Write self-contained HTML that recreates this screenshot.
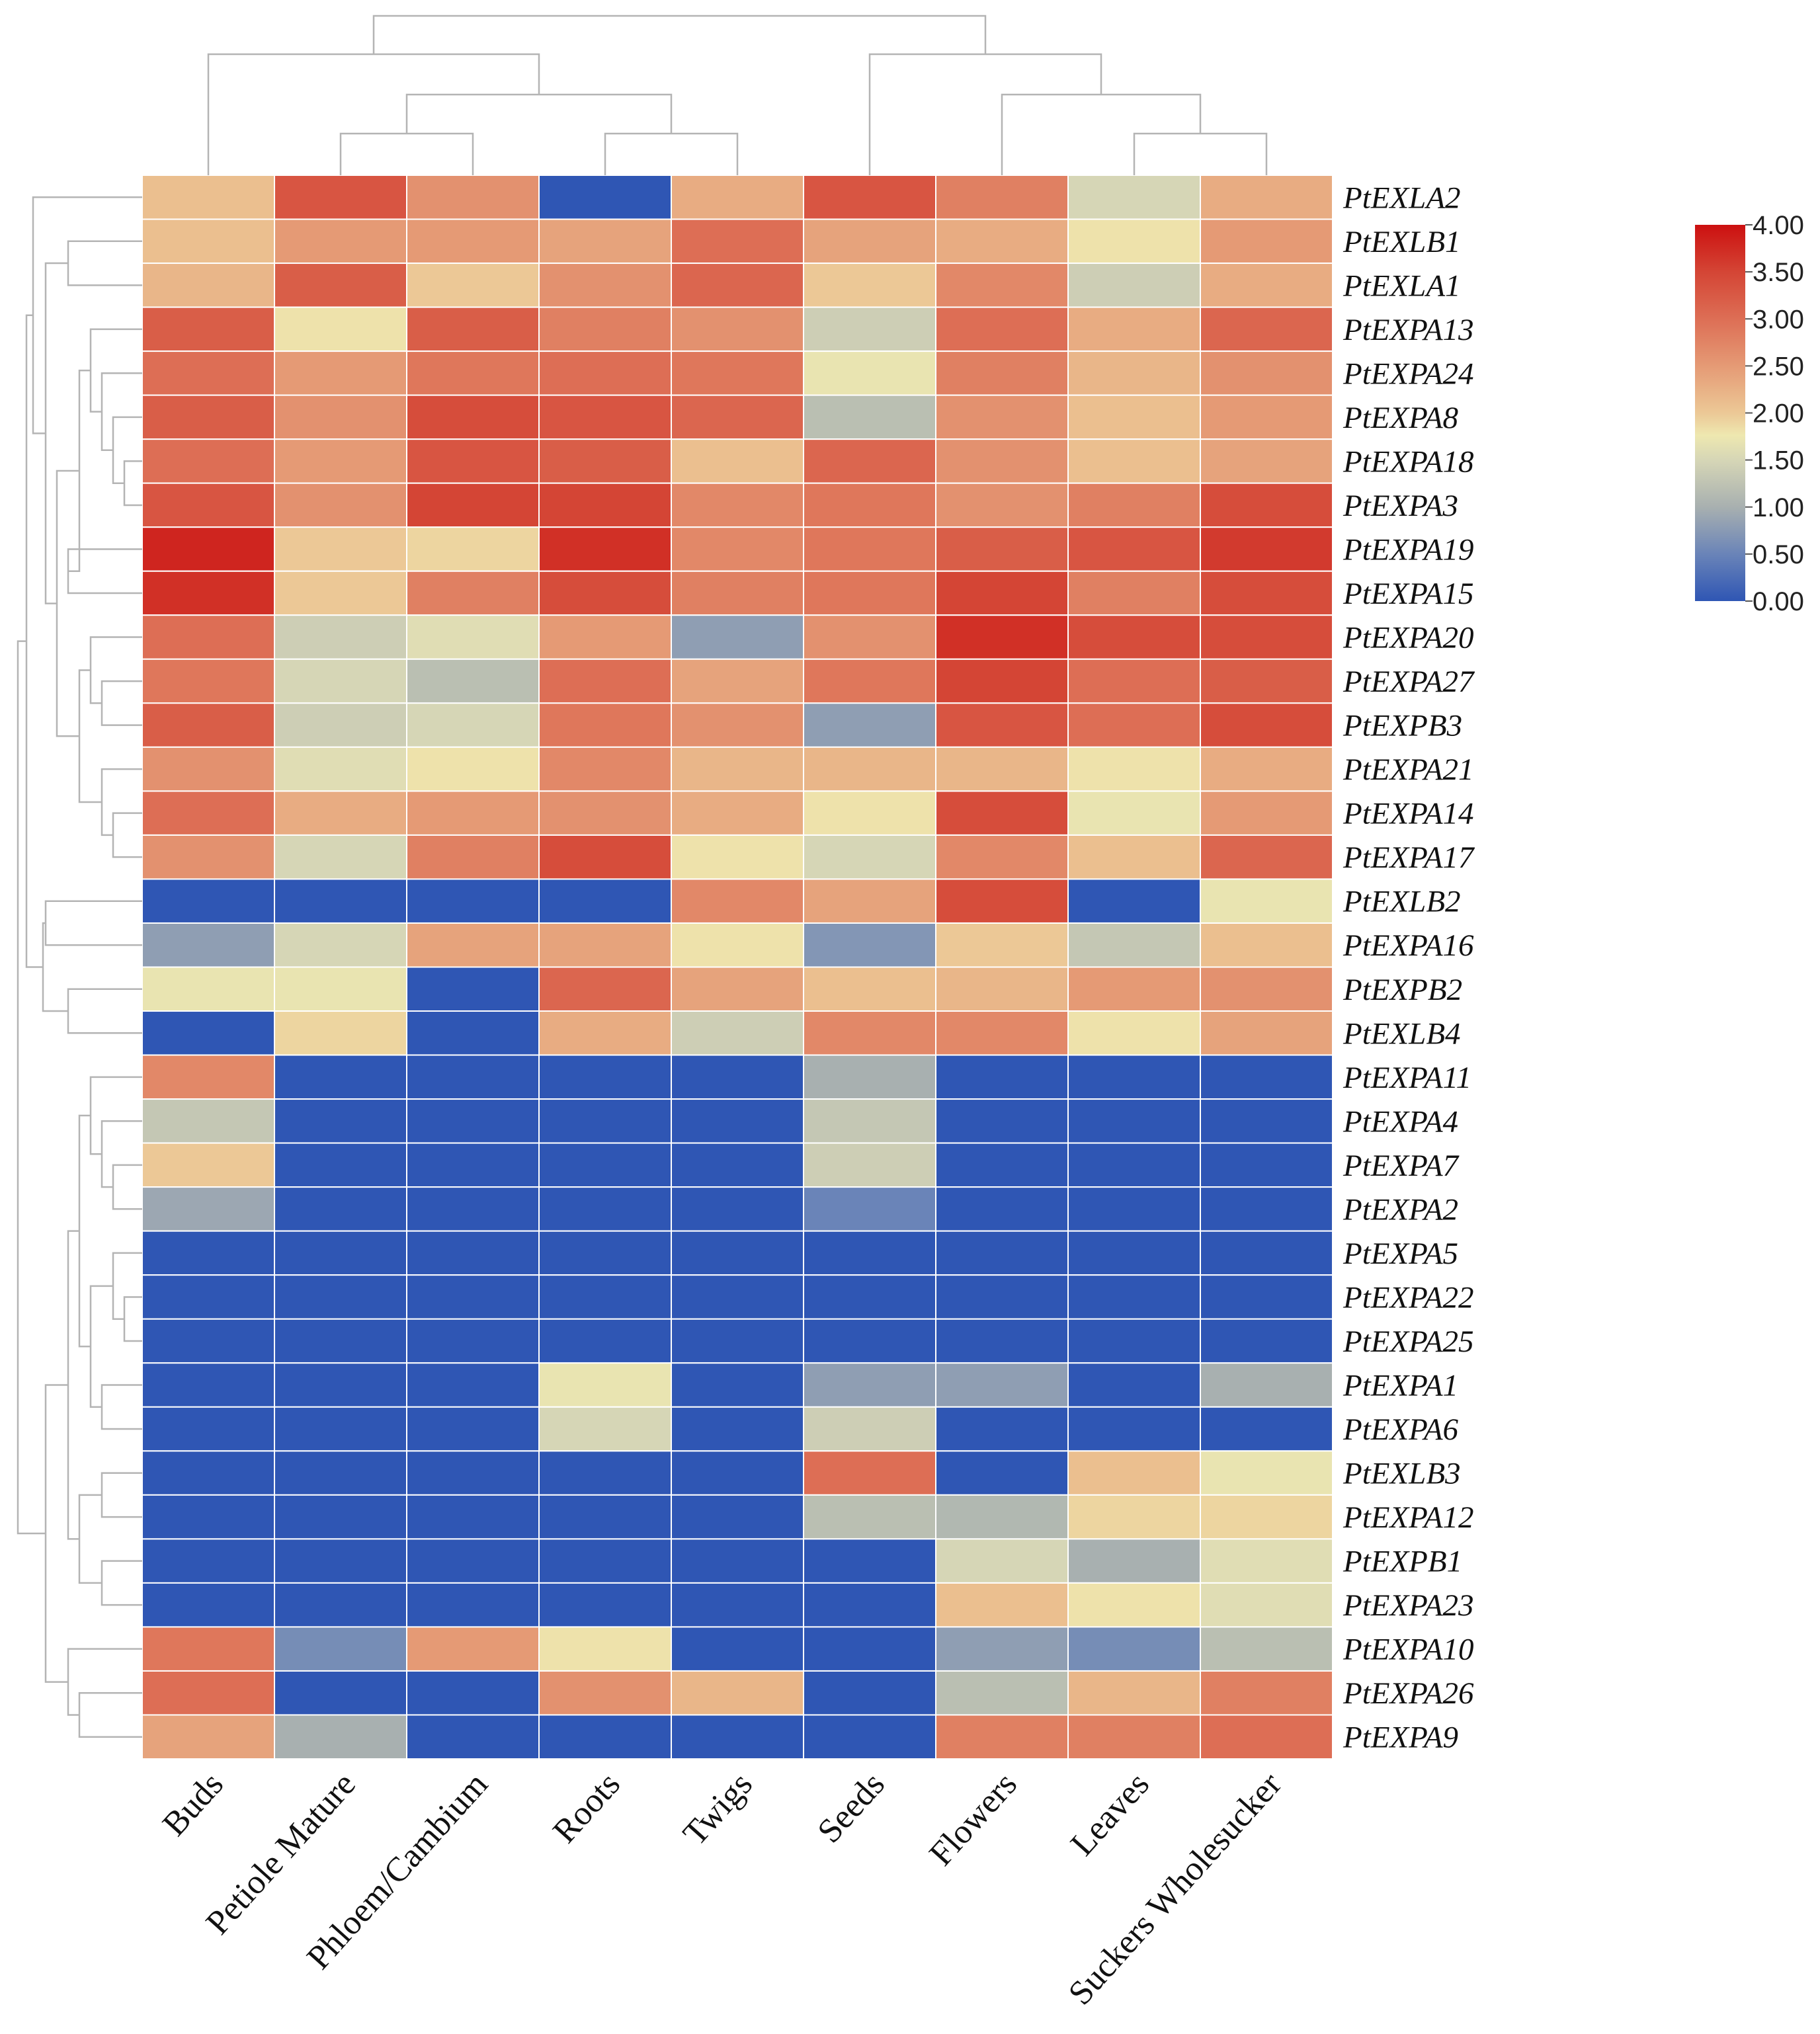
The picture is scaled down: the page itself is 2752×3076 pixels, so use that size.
<!DOCTYPE html>
<html><head><meta charset="utf-8">
<style>html,body{margin:0;padding:0;background:#fff}svg{display:block}</style>
</head><body>
<svg id="chart" width="2752" height="3076" viewBox="0 0 2752 3076" xmlns="http://www.w3.org/2000/svg">
<defs>
<linearGradient id="cbg" x1="0" y1="1" x2="0" y2="0">
<stop offset="0" stop-color="#2f56b4"/><stop offset="0.125" stop-color="#6a84b8"/><stop offset="0.25" stop-color="#a8b0b0"/><stop offset="0.375" stop-color="#d6d6b6"/><stop offset="0.44" stop-color="#eee8b0"/><stop offset="0.5" stop-color="#ecc896"/><stop offset="0.625" stop-color="#e59a75"/><stop offset="0.75" stop-color="#dd6e55"/><stop offset="0.875" stop-color="#d44535"/><stop offset="1" stop-color="#cc1010"/>
</linearGradient>
</defs>
<g id="cells"></g>
<g id="rowlabels"></g>
<g id="collabels"></g>
<g id="dendro" stroke="#b4b4b4" stroke-width="2.5" fill="none"></g>
<g>
<rect x="2563" y="340" width="76" height="569" fill="url(#cbg)"/>
<g id="cbticks"></g>
</g>
</svg>
<script>
const cols = ["Buds","Petiole Mature","Phloem/Cambium","Roots","Twigs","Seeds","Flowers","Leaves","Suckers Wholesucker"];
const rows = ["PtEXLA2","PtEXLB1","PtEXLA1","PtEXPA13","PtEXPA24","PtEXPA8","PtEXPA18","PtEXPA3","PtEXPA19","PtEXPA15","PtEXPA20","PtEXPA27","PtEXPB3","PtEXPA21","PtEXPA14","PtEXPA17","PtEXLB2","PtEXPA16","PtEXPB2","PtEXLB4","PtEXPA11","PtEXPA4","PtEXPA7","PtEXPA2","PtEXPA5","PtEXPA22","PtEXPA25","PtEXPA1","PtEXPA6","PtEXLB3","PtEXPA12","PtEXPB1","PtEXPA23","PtEXPA10","PtEXPA26","PtEXPA9"];
const values = [
[2.1,3.3,2.6,0,2.3,3.3,2.8,1.5,2.3],
[2.1,2.5,2.5,2.4,3.0,2.4,2.3,1.8,2.5],
[2.2,3.2,2.0,2.6,3.1,2.0,2.7,1.4,2.3],
[3.2,1.8,3.2,2.8,2.6,1.4,3.0,2.3,3.1],
[3.0,2.5,2.9,3.0,2.9,1.7,2.8,2.2,2.6],
[3.2,2.6,3.4,3.3,3.1,1.2,2.6,2.1,2.5],
[3.0,2.5,3.3,3.2,2.1,3.1,2.6,2.1,2.4],
[3.3,2.6,3.5,3.5,2.7,2.9,2.6,2.8,3.4],
[3.8,2.0,1.9,3.7,2.7,2.9,3.2,3.3,3.6],
[3.7,2.0,2.8,3.4,2.8,2.9,3.5,2.8,3.4],
[3.0,1.4,1.6,2.5,0.8,2.6,3.7,3.4,3.4],
[2.9,1.5,1.2,3.0,2.4,2.9,3.5,3.0,3.2],
[3.2,1.4,1.5,2.9,2.6,0.8,3.3,3.0,3.4],
[2.6,1.6,1.8,2.7,2.2,2.2,2.2,1.8,2.3],
[3.0,2.3,2.5,2.6,2.3,1.8,3.4,1.7,2.5],
[2.6,1.5,2.8,3.4,1.8,1.5,2.7,2.1,3.1],
[0,0,0,0,2.7,2.4,3.4,0,1.7],
[0.8,1.5,2.4,2.4,1.8,0.7,2.0,1.3,2.1],
[1.7,1.7,0,3.1,2.4,2.1,2.2,2.5,2.6],
[0,1.9,0,2.3,1.4,2.7,2.7,1.8,2.4],
[2.7,0,0,0,0,1.0,0,0,0],
[1.3,0,0,0,0,1.3,0,0,0],
[2.0,0,0,0,0,1.4,0,0,0],
[0.9,0,0,0,0,0.5,0,0,0],
[0,0,0,0,0,0,0,0,0],
[0,0,0,0,0,0,0,0,0],
[0,0,0,0,0,0,0,0,0],
[0,0,0,1.7,0,0.8,0.8,0,1.0],
[0,0,0,1.5,0,1.4,0,0,0],
[0,0,0,0,0,3.0,0,2.1,1.7],
[0,0,0,0,0,1.2,1.1,1.9,1.9],
[0,0,0,0,0,0,1.5,1.0,1.6],
[0,0,0,0,0,0,2.1,1.8,1.6],
[2.9,0.6,2.5,1.8,0,0,0.8,0.6,1.2],
[3.0,0,0,2.6,2.2,0,1.2,2.2,2.8],
[2.4,1.0,0,0,0,0,2.8,2.8,3.0]
];
const tickLabels = ["0.00","0.50","1.00","1.50","2.00","2.50","3.00","3.50","4.00"];
const tickValues = [0,0.5,1,1.5,2,2.5,3,3.5,4];
const colTree = [0,[[1,2,1],[3,4,1],2],3];
const colTree2 = [5,[6,[7,8,1],2],3];
const colRoot = [colTree, colTree2, 4];
const rowTree = [[[0,[[1,2,3],[[[3,[4,[5,[6,7,8],7],6],5],[8,9,3],4],[[10,[11,12,6],5],[13,[14,15,7],6],4],2],1],0],[[16,17,1],[18,19,3],0.5],-1],[[[[20,[21,[22,23,7],6],5],[[24,[25,26,8],7],[27,28,6],5],4],[[29,30,6],[31,32,6],4],3],[33,[34,35,4],3],1],-2];

const X0=215,Y0=265,W=1800,H=2395,cw=W/9,rh=H/36;
const CBT=340,CBH=569;
const stops=[[0,[47,86,180]],[0.5,[106,132,184]],[1,[168,176,176]],[1.5,[214,214,182]],[1.75,[238,232,176]],[2,[236,200,150]],[2.5,[229,154,117]],[3,[221,110,85]],[3.5,[212,69,53]],[4,[204,16,16]]];
function color(v){v=Math.max(0,Math.min(4,v));for(let i=1;i<stops.length;i++){if(v<=stops[i][0]){const a=stops[i-1],b=stops[i],t=(v-a[0])/(b[0]-a[0]);const c=a[1].map((x,k)=>Math.round(x+(b[1][k]-x)*t));return `rgb(${c})`;}}return 'rgb(204,16,16)';}
const NS='http://www.w3.org/2000/svg';
function mk(tag,attrs,parent){const e=document.createElementNS(NS,tag);for(const k in attrs)e.setAttribute(k,attrs[k]);parent.appendChild(e);return e;}
const xc=i=>X0+cw*i, yr=j=>Y0+rh*j;
const gc=document.getElementById('cells');
values.forEach((row,j)=>row.forEach((v,i)=>{
 const r=mk('rect',{x:xc(i),y:yr(j),width:cw,height:rh,fill:color(v),stroke:'#fff','stroke-width':2},gc);
 
 
}));
const gr=document.getElementById('rowlabels');
rows.forEach((n,j)=>{
 const t=mk('text',{x:2031,y:yr(j)+rh/2+16,'font-family':'Liberation Serif, serif','font-style':'italic','font-size':47,fill:'#111'},gr);
 t.textContent=n;
 
 
});
const gl=document.getElementById('collabels');
cols.forEach((n,i)=>{
 const x=xc(i)+cw/2+25,y=2700;
 const t=mk('text',{x:x,y:y,'text-anchor':'end','font-family':'Liberation Serif, serif','font-size':52,fill:'#111',transform:`rotate(-48 ${x} ${y})`},gl);
 t.textContent=n;
 
 
});
const gt=document.getElementById('cbticks');
tickValues.forEach((v,k)=>{
 const y=CBT+CBH-(v/4)*CBH;
 const l=mk('line',{x1:2639,y1:y,x2:2650,y2:y,stroke:'#555','stroke-width':2},gt);
 
 
 const t=mk('text',{x:2650,y:y+14,'font-family':'Liberation Sans, sans-serif','font-size':40,fill:'#222'},gt);
 t.textContent=tickLabels[k];
 
 
});
const gd=document.getElementById('dendro');
const colLevelY={0:Y0,1:202,2:143,3:82,4:24};
function colD(n){if(typeof n==='number')return {p:xc(n)+cw/2,y:Y0};const a=colD(n[0]),b=colD(n[1]),y=colLevelY[n[2]];
 const p=mk('path',{d:`M${a.p},${a.y}V${y}H${b.p}V${b.y}`},gd);
 
 return {p:(a.p+b.p)/2,y:y};}
colD(colRoot);
const rowLevelX=l=>200-(l>=1?(8-l)*17:0)-(l>=1?12:0);
function rowD(n){if(typeof n==='number')return {p:yr(n)+rh/2,x:X0};const a=rowD(n[0]),b=rowD(n[1]);let x=rowLevelX(n[2]);
 if(n[2]===0)x=50; if(n[2]===0.5)x=65; if(n[2]===-1)x=40; if(n[2]===-2)x=27;
 const p=mk('path',{d:`M${a.x},${a.p}H${x}V${b.p}H${b.x}`},gd);
 
 return {p:(a.p+b.p)/2,x:x};}
rowD(rowTree);
</script>
</body></html>
